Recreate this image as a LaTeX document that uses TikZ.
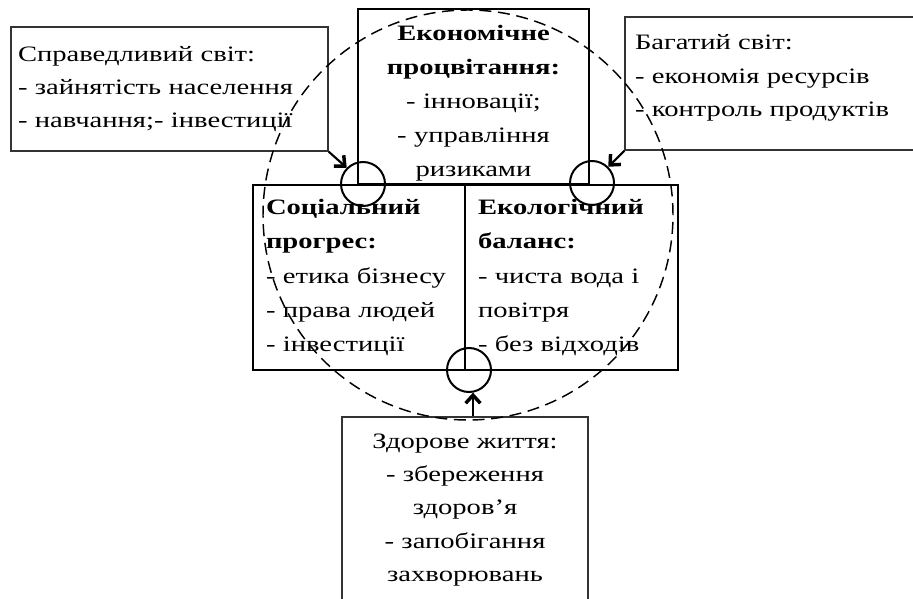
\documentclass[tikz,border=0pt]{standalone}
\usepackage{fontspec}
\setmainfont{Liberation Serif}[FakeStretch=1.3]
\usetikzlibrary{positioning,arrows.meta,calc,shapes}
\tikzset{
    x=0.75pt,
    y=-0.75pt,
    box/.style = {
        draw,
        shape=rectangle,
        line width=1.6pt,
        inner ysep=0pt,
        font=\fontsize{16.5}{25.6}\selectfont
    },
    note/.style = {
        draw=black!80,
        shape=rectangle,
        line width=1pt,
        inner ysep=0pt,
        font=\fontsize{16.5}{25}\selectfont
    },
    joint/.style = {
        draw,
        shape=circle,
        minimum size=33pt,
        inner sep=0pt,
        line width=1.5pt
    },
    ring/.style = {
        draw,
        shape=circle,
        minimum size=307.5pt,
        inner sep=0pt,
        line width=1.1pt,
        dash pattern=on 9pt off 5pt
    },
    >={Straight Barb[length=6pt,width=11pt,line width=2.6pt]},
}
\begin{document}
\begin{tikzpicture}

            \useasboundingbox (0,0) rectangle (913,599);
            \clip (0,0) rectangle (913,599);

            \node[note, minimum width=237.75pt, minimum height=93pt, inner xsep=5.25pt, text width=227.25pt, align=left] (just) at (169.5,89) {Справедливий світ:\\- зайнятість населення\\- навчання;- інвестиції};
            \node[note, minimum width=228.75pt, minimum height=99.75pt, inner xsep=7.5pt, text width=213.75pt, align=left] (rich) at (777.5,83.5) {Багатий світ:\\- економія ресурсів\\- контроль продуктів\rule[-12pt]{0pt}{0pt}};

            \node[box, minimum width=173.25pt, minimum height=131.25pt, inner xsep=4pt, text width=165.25pt, align=center] (econ) at (473.5,96.5) {\rule{0pt}{21.7pt}\textbf{Економічне}\\\textbf{процвітання:}\\- інновації;\\- управління\\ризиками};

            \node[box, minimum width=159pt, minimum height=138.75pt, inner xsep=9.75pt, text width=139.5pt, align=left] (social) at (359,277.5) {\textbf{Соціальний}\\\textbf{прогрес:}\\- етика бізнесу\\- права людей\\- інвестиції};
            \node[box, minimum width=159.75pt, minimum height=138.75pt, inner xsep=9.75pt, text width=140.25pt, align=left] (eco) at (571.5,277.5) {\textbf{Екологічний}\\\textbf{баланс:}\\- чиста вода і\\повітря\\- без відходів};

            \node[note, minimum width=184.5pt, minimum height=139.5pt, inner xsep=5pt, text width=174.5pt, align=center] (health) at (465,510) {Здорове життя:\\- збереження\\здоров’я\\ - запобігання\\захворювань};

            \node[joint] (c_left) at (363,184) {};
            \node[joint] (c_right) at (592,183) {};
            \node[joint] (c_bottom) at (469,370) {};

            \node[ring] (ring) at (468,215) {};

            \path[draw, ->, line width=1.6pt] (just.south east) -- (c_left.135);
            \path[draw, ->, line width=1.6pt] (rich.south west) -- (c_right.45);
            \path[draw, ->, line width=1.6pt] (c_bottom.-80 |- health.north) -- (c_bottom.-80);

        \end{tikzpicture}
\end{document}
